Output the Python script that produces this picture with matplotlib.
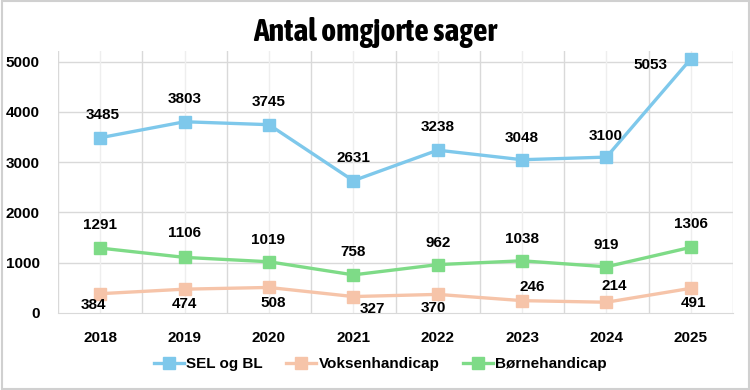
import matplotlib
matplotlib.use("Agg")
import matplotlib.pyplot as plt
from matplotlib.patches import Rectangle

years = ["2018", "2019", "2020", "2021", "2022", "2023", "2024", "2025"]
sel_bl = [3485, 3803, 3745, 2631, 3238, 3048, 3100, 5053]
voksen = [384, 474, 508, 327, 370, 246, 214, 491]
borne = [1291, 1106, 1019, 758, 962, 1038, 919, 1306]

# label offsets in pixels (dx, dy)
sel_off = [(3, 23), (0, 23), (0, 23), (0, 23), (0, 23), (0, 22), (-1, 21), (-40, -6)]
voksen_off = [(-7, -11), (0, -15), (4, -16), (19, -12), (-4, -14), (10, 14), (8, 16), (3, -15)]
borne_off = [(0, 23), (0, 24), (-1, 22), (0, 23), (0, 22), (0, 22), (0, 22), (0, 23)]

c_sel = "#7EC8EB"
c_voks = "#F6C4A9"
c_born = "#7EDB87"

plt.rcParams["font.family"] = ["Liberation Sans", "DejaVu Sans"]

fig = plt.figure(figsize=(7.5, 3.9), dpi=100)
ax = fig.add_axes([58 / 750, 1 - 313 / 390, 675 / 750, 262 / 390])

x = list(range(len(years)))
series = [
    (sel_bl, c_sel, "SEL og BL", sel_off),
    (voksen, c_voks, "Voksenhandicap", voksen_off),
    (borne, c_born, "Børnehandicap", borne_off),
]
for vals, col, name, offs in series:
    ax.plot(x, vals, color=col, lw=2.4, marker="s", ms=8, label=name,
            clip_on=False, zorder=3)
    for xi, v, (dx, dy) in zip(x, vals, offs):
        ax.annotate(str(v), (xi, v), xytext=(dx, dy), textcoords="offset pixels",
                    ha="center", va="center", fontsize=11, fontweight="bold",
                    color="black", zorder=4)

ax.set_xlim(-0.5, 7.5)
ax.set_ylim(0, 5210)
ax.set_yticks([0, 1000, 2000, 3000, 4000, 5000])
ax.set_xticks(x)
ax.set_xticklabels(years)

# horizontal grid + category boundary lines (darker) and center lines (lighter)
for yv in [1000, 2000, 3000, 4000, 5000]:
    ax.axhline(yv, color="#d9d9d9", lw=1, zorder=1)
for xv in [i + 0.5 for i in range(-1, 8)]:
    ax.axvline(xv, color="#d9d9d9", lw=1, zorder=1)
for xv in x:
    ax.axvline(xv, color="#eeeeee", lw=1, zorder=1)

for s in ["top", "right", "left"]:
    ax.spines[s].set_visible(False)
ax.spines["bottom"].set_color("#d9d9d9")
ax.tick_params(axis="both", which="both", length=0)
ax.tick_params(axis="y", pad=13)
ax.tick_params(axis="x", pad=13)
for lbl in ax.get_xticklabels() + ax.get_yticklabels():
    lbl.set_fontweight("bold")
    lbl.set_fontsize(11)

# narrow bold title
fig.text(0.5, 1 - 32 / 390, "Antal omgjorte sager", ha="center", va="center",
         family=["Asap Condensed", "Liberation Sans"], fontweight="bold", fontsize=23)

leg = fig.legend(loc="center", bbox_to_anchor=(0.507, 1 - 364 / 390), ncol=3,
                 frameon=False, fontsize=11, handlelength=2.0, columnspacing=1.5,
                 handletextpad=0.15)
for t in leg.get_texts():
    t.set_fontweight("bold")

fig.patches.append(Rectangle((0.002, 0.003), 0.996, 0.994, transform=fig.transFigure,
                             fill=False, edgecolor="#d0d0d0", lw=1.5))

fig.savefig("out.png", dpi=100)
